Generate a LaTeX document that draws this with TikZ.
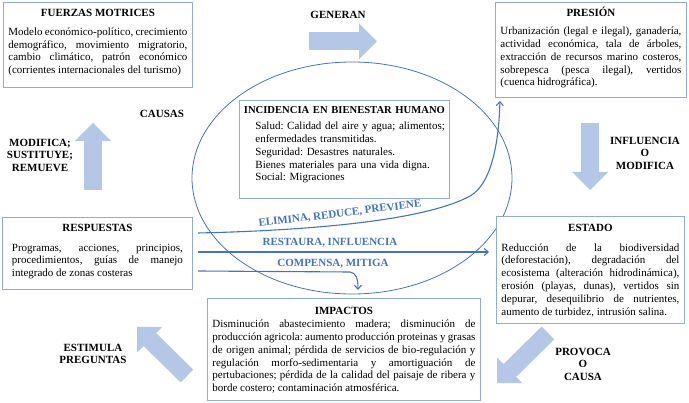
\documentclass[tikz,border=0pt]{standalone}
\usepackage{fontspec}
\setmainfont{Liberation Serif}
\usetikzlibrary{arrows.meta}
\definecolor{marco}{HTML}{8FAADC}
\definecolor{linea}{HTML}{4472C4}
\definecolor{flecha}{HTML}{B4C7E7}
\begin{document}
\begin{tikzpicture}[x=1pt,y=-1pt,>={Straight Barb[length=4pt,width=7pt]},
    caja/.style={draw=marco,fill=white,line width=0.9pt,inner xsep=5pt,inner ysep=7pt,text height=7.5pt,
      anchor=north west,align=justify,font=\fontsize{11}{12.8}\selectfont\frenchspacing},
    etiqueta/.style={font=\bfseries\fontsize{11}{12.5}\selectfont,align=center},
    accion/.style={text=linea,font=\bfseries\fontsize{11}{12}\selectfont},
    conector/.style={draw=linea,line width=1.1pt,->},
    gruesa/.style={draw=flecha,line width=18pt,-{Triangle[width=36pt,length=18pt,line width=0pt]}}]
  \useasboundingbox (0,0) rectangle (689,403);
  \hyphenpenalty=10000

  \draw[linea,line width=0.8pt] (352,178) ellipse [x radius=160,y radius=116];

  % cajas
  \node[caja,text width=179pt,text depth=63.5pt] (FM) at (3,2)
    {{\centering\bfseries FUERZAS MOTRICES\par}\vspace{5.5pt}
     Modelo económico-político, crecimiento\linebreak demográfico, movimiento migratorio,\linebreak
     cambio climático, patrón económico\linebreak (corrientes internacionales del turismo)};
  \node[caja,text width=181pt,text depth=73.5pt] (PR) at (495,2)
    {{\centering\bfseries PRESIÓN\par}\vspace{5pt}
     Urbanización (legal e ilegal), ganadería,\linebreak actividad económica, tala de árboles,\linebreak
     extracción de recursos marino costeros,\linebreak sobrepesca (pesca ilegal), vertidos\linebreak
     (cuenca hidrográfica).};
  \node[caja,text width=204pt,inner xsep=3pt,inner ysep=5.5pt,text depth=79.5pt,align=left] (IB) at (239,100)
    {{\centering\bfseries\fontsize{10.6}{12.8}\selectfont INCIDENCIA EN BIENESTAR HUMANO\par}\vspace{3.4pt}
     {\leftskip=13pt Salud: Calidad del aire y agua; alimentos;\\ enfermedades transmitidas.\\
     Seguridad: Desastres naturales.\\ Bienes materiales para una vida digna.\\ Social: Migraciones\par}};
  \node[caja,text width=171pt,inner xsep=9.5pt,text depth=50.5pt] (RE) at (2,217)
    {{\centering\bfseries RESPUESTAS\par}\vspace{6.4pt}
     Programas, acciones, principios,\linebreak procedimientos, guías de manejo\linebreak
     integrado de zonas costeras};
  \node[caja,text width=178pt,inner ysep=8pt,text depth=83.5pt] (ES) at (496,216)
    {{\centering\bfseries ESTADO\par}\vspace{6.4pt}
     Reducción de la biodiversidad\linebreak (deforestación), degradación del\linebreak
     ecosistema (alteración hidrodinámica),\linebreak erosión (playas, dunas), vertidos sin\linebreak
     depurar, desequilibrio de nutrientes,\linebreak aumento de turbidez, intrusión salina.};
  \node[caja,text width=263pt,inner ysep=9pt,text depth=76.5pt] (IM) at (207,298)
    {{\centering\bfseries IMPACTOS\par}
     Disminución abastecimiento madera; disminución de\linebreak
     producción agricola: aumento producción proteinas y grasas\linebreak
     de origen animal; pérdida de servicios de bio-regulación y\linebreak
     regulación morfo-sedimentaria y amortiguación de\linebreak
     pertubaciones; pérdida de la calidad del paisaje de ribera y\linebreak
     borde costero; contaminación atmosférica.};

  % flechas gruesas
  \draw[gruesa] (309,41.5) -- (377,41.5);
  \draw[gruesa] (590,123) -- (590,190);
  \draw[gruesa] (548,333) -- (497,383);
  \draw[gruesa] (187,376) -- (137,327);
  \draw[gruesa] (93,190) -- (93,123);

  \node[etiqueta] (gen) at (338,15) {GENERAN};
  \node[etiqueta] (cau) at (162,114) {CAUSAS};
  \node[etiqueta] (mod) at (40,155) {MODIFICA;\\SUSTITUYE;\\REMUEVE};
  \node[etiqueta] (inf) at (645,153) {INFLUENCIA\\O\\MODIFICA};
  \node[etiqueta] (pro) at (583,364) {PROVOCA\\O\\CAUSA};
  \node[etiqueta] (est) at (93,354) {ESTIMULA\\PREGUNTAS};

  % respuestas
  \coordinate (e1) at (198,233);
  \coordinate (e2) at (198,252);
  \coordinate (e3) at (198,271);
  \draw[conector,shorten >=3pt] (e1) .. controls (330,230) and (430,218) .. (470,196)
    .. controls (492,184) and (499,140) .. ([xshift=5pt]PR.south west);
  \draw[conector,shorten >=7pt] (e2) -- (e2 -| ES.west);
  \draw[conector,shorten >=8pt] (e3) -- (350,272) .. controls (356,273) and (358,278) .. ([xshift=14pt]IM.north);
  \node[accion,rotate=7] (eli) at (340,214) {ELIMINA, REDUCE, PREVIENE};
  \node[accion] (res) at (330,243) {RESTAURA, INFLUENCIA};
  \node[accion] (com) at (333,264) {COMPENSA, MITIGA};
\end{tikzpicture}
\end{document}
